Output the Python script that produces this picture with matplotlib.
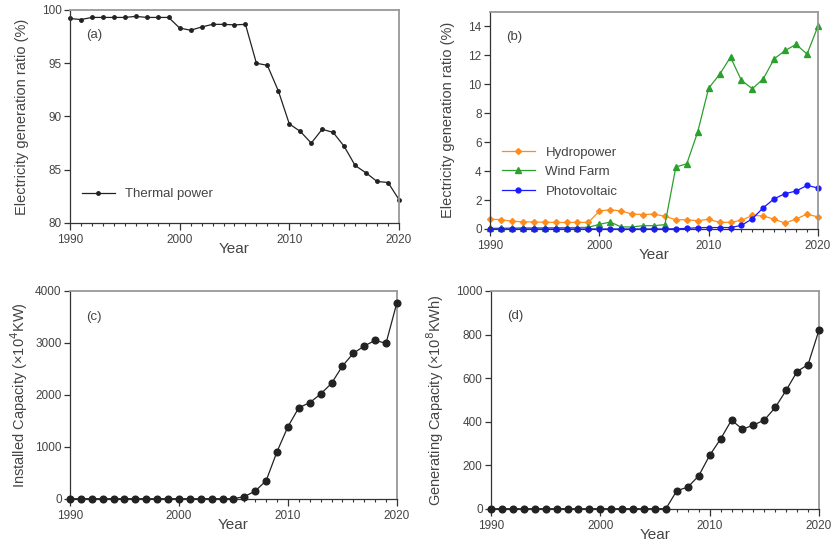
import matplotlib
matplotlib.use("Agg")
import matplotlib.pyplot as plt
from matplotlib.ticker import MultipleLocator

plt.rcParams['font.family'] = ['Liberation Sans', 'DejaVu Sans']

# ---- data ----
years = list(range(1990, 2021))

thermal = [99.2, 99.1, 99.3, 99.3, 99.3, 99.3, 99.4, 99.3, 99.3, 99.3,
           98.3, 98.1, 98.4, 98.65, 98.65, 98.6, 98.65, 95.0, 94.8, 92.4,
           89.3, 88.6, 87.5, 88.8, 88.5, 87.2, 85.4, 84.7, 83.9, 83.8, 82.2]

hydro = [0.67, 0.65, 0.53, 0.5, 0.48, 0.47, 0.45, 0.45, 0.46, 0.45,
         1.24, 1.33, 1.24, 1.03, 1.0, 1.03, 0.87, 0.64, 0.64, 0.57,
         0.67, 0.46, 0.46, 0.6, 0.94, 0.9, 0.67, 0.41, 0.69, 1.03, 0.83]

wind = [0.05, 0.06, 0.07, 0.08, 0.08, 0.09, 0.09, 0.1, 0.1, 0.12,
        0.32, 0.48, 0.14, 0.14, 0.23, 0.23, 0.3, 4.28, 4.5, 6.7,
        9.72, 10.67, 11.86, 10.25, 9.68, 10.37, 11.75, 12.32, 12.74, 12.07, 14.0]

pv = [0, 0, 0, 0, 0, 0, 0, 0, 0, 0,
      0, 0, 0, 0, 0, 0, 0, 0.02, 0.04, 0.09,
      0.1, 0.1, 0.1, 0.25, 0.71, 1.47, 2.09, 2.44, 2.62, 3.01, 2.83]

installed = [0, 0, 0, 0, 0, 0, 0, 0, 0, 0,
             0, 0, 0, 0, 0, 0, 40, 147, 346, 904,
             1385, 1750, 1846, 2013, 2218, 2551, 2795, 2936, 3045, 2987, 3769]

generating = [0, 0, 0, 0, 0, 0, 0, 0, 0, 0,
              0, 0, 0, 0, 0, 0, 0, 83, 99, 151,
              245, 320, 407, 365, 384, 407, 465, 544, 630, 662, 820]

TXT = '#444444'

fig = plt.figure(figsize=(8.34, 5.42), dpi=100)

ax_a = fig.add_axes([0.0839, 0.5886, 0.3945, 0.393])
ax_b = fig.add_axes([0.5875, 0.5775, 0.3933, 0.401])
ax_c = fig.add_axes([0.0839, 0.0799, 0.392, 0.3838])
ax_d = fig.add_axes([0.5887, 0.0614, 0.3933, 0.4018])


def style(ax):
    ax.set_xlim(1990, 2020)
    ax.xaxis.set_major_locator(MultipleLocator(10))
    ax.xaxis.set_minor_locator(MultipleLocator(1))
    ax.tick_params(axis='x', which='major', length=5, width=0.9, labelsize=8.5, pad=3, colors='#333333')
    ax.tick_params(axis='x', which='minor', length=2.5, width=0.8, colors='#333333')
    ax.tick_params(axis='y', which='major', length=4, width=0.9, labelsize=8.5, pad=2, colors='#333333')
    ax.tick_params(labelcolor=TXT)
    for s in ['left', 'bottom']:
        ax.spines[s].set_color('#333333')
        ax.spines[s].set_linewidth(0.9)
    for s in ['top', 'right']:
        ax.spines[s].set_color('#999999')
        ax.spines[s].set_linewidth(1.3)
    ax.set_xlabel('Year', fontsize=11, labelpad=-3, color=TXT)


# (a)
ax_a.plot(years, thermal, color='#222222', lw=0.9, marker='o', ms=2.5, label='Thermal power', clip_on=False)
ax_a.set_ylim(80, 100)
ax_a.yaxis.set_major_locator(MultipleLocator(5))
style(ax_a)
ax_a.set_ylabel('Electricity generation ratio (%)', fontsize=10.5, color=TXT, labelpad=9)
ax_a.text(0.05, 0.87, '(a)', transform=ax_a.transAxes, fontsize=9.5, color=TXT)
ax_a.legend(loc='lower left', bbox_to_anchor=(0.0, 0.05), frameon=False, fontsize=9.5,
            handlelength=2.5, labelcolor=TXT)

# (b)
ax_b.plot(years, hydro, color='#ff8c1a', lw=0.9, marker='D', ms=3, label='Hydropower', clip_on=False)
ax_b.plot(years, wind, color='#2ca02c', lw=0.9, marker='^', ms=4, label='Wind Farm', clip_on=False)
ax_b.plot(years, pv, color='#1a1aff', lw=0.9, marker='o', ms=3.5, label='Photovoltaic', clip_on=False)
ax_b.set_ylim(0, 15)
ax_b.yaxis.set_major_locator(MultipleLocator(2))
style(ax_b)
ax_b.set_ylabel('Electricity generation ratio (%)', fontsize=10.5, color=TXT, labelpad=10)
ax_b.text(0.05, 0.87, '(b)', transform=ax_b.transAxes, fontsize=9.5, color=TXT)
ax_b.legend(loc='lower left', bbox_to_anchor=(0.0, 0.09), frameon=False, fontsize=9.5,
            handlelength=2.5, labelspacing=0.55, labelcolor=TXT)

# (c)
ax_c.plot(years, installed, color='#222222', lw=0.9, marker='o', ms=4.8, clip_on=False, zorder=3)
ax_c.set_ylim(0, 4000)
ax_c.yaxis.set_major_locator(MultipleLocator(1000))
style(ax_c)
ax_c.set_ylabel('Installed Capacity (×10$^4$KW)', fontsize=10.5, color=TXT, labelpad=4)
ax_c.text(0.05, 0.86, '(c)', transform=ax_c.transAxes, fontsize=9.5, color=TXT)

# (d)
ax_d.plot(years, generating, color='#222222', lw=0.9, marker='o', ms=4.8, clip_on=False, zorder=3)
ax_d.set_ylim(0, 1000)
ax_d.yaxis.set_major_locator(MultipleLocator(200))
style(ax_d)
ax_d.set_ylabel('Generating Capacity (×10$^8$KWh)', fontsize=10.5, color=TXT, labelpad=7)
ax_d.text(0.05, 0.87, '(d)', transform=ax_d.transAxes, fontsize=9.5, color=TXT)

fig.savefig('out.png', dpi=100)
